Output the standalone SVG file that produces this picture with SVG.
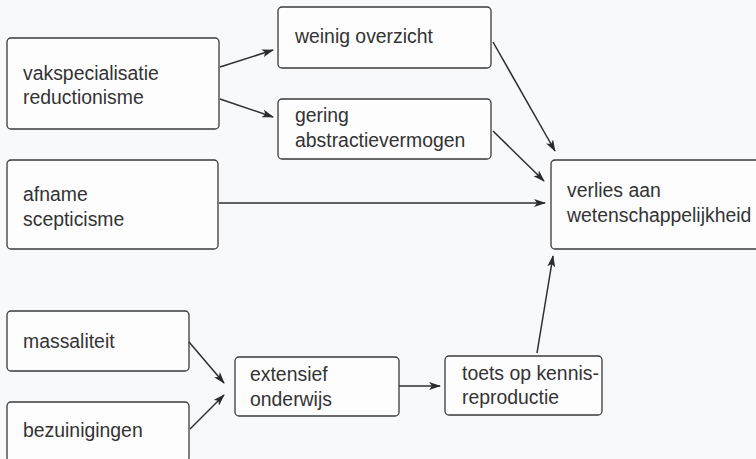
<svg xmlns="http://www.w3.org/2000/svg" width="756" height="459" viewBox="0 0 756 459">
<defs>
<marker id="ah" markerWidth="12" markerHeight="8" refX="11" refY="4" orient="auto" markerUnits="userSpaceOnUse">
<path d="M0,0 L12,4 L0,8 L3,4 z" fill="#2b2b2b"/>
</marker>
<style>
.box{fill:#fdfdfe;stroke:#3a3a3a;stroke-width:1.3}
.t{font-family:"Liberation Sans",Arial,sans-serif;font-size:19.4px;fill:#333}
.c{stroke:#2e2e2e;stroke-width:1.5;fill:none;marker-end:url(#ah)}
</style>
</defs>
<rect width="756" height="459" fill="#f8f9fa"/>
<g id="n-vak"><rect class="box" x="7" y="38" width="212" height="91" rx="4"/><text class="t" x="23" y="80">vakspecialisatie</text><text class="t" x="23" y="104">reductionisme</text></g>
<g id="n-weinig"><rect class="box" x="278" y="7" width="213" height="61" rx="4"/><text class="t" x="295" y="43">weinig overzicht</text></g>
<g id="n-gering"><rect class="box" x="278" y="99" width="213" height="60" rx="4"/><text class="t" x="295" y="122">gering</text><text class="t" x="295" y="147">abstractievermogen</text></g>
<g id="n-afname"><rect class="box" x="7" y="160" width="211" height="89" rx="4"/><text class="t" x="23" y="201">afname</text><text class="t" x="23" y="226">scepticisme</text></g>
<g id="n-verlies"><rect class="box" x="551" y="160" width="215" height="89" rx="4"/><text class="t" x="567" y="197">verlies aan</text><text class="t" x="567" y="222">wetenschappelijkheid</text></g>
<g id="n-massa"><rect class="box" x="7" y="311" width="182" height="60" rx="4"/><text class="t" x="23" y="348">massaliteit</text></g>
<g id="n-bezui"><rect class="box" x="7" y="402" width="182" height="60" rx="4"/><text class="t" x="23" y="437">bezuinigingen</text></g>
<g id="n-ext"><rect class="box" x="235" y="357" width="164" height="59" rx="4"/><text class="t" x="250" y="381">extensief</text><text class="t" x="250" y="406">onderwijs</text></g>
<g id="n-toets"><rect class="box" x="445" y="356" width="157" height="59" rx="4"/><text class="t" x="462" y="380">toets op kennis-</text><text class="t" x="462" y="404">reproductie</text></g>
<g id="connectors">
<line class="c" x1="220" y1="67" x2="273" y2="50"/>
<line class="c" x1="220" y1="99" x2="273" y2="117"/>
<line class="c" x1="493" y1="42" x2="555" y2="151"/>
<line class="c" x1="493" y1="131" x2="544" y2="181"/>
<line class="c" x1="219" y1="203" x2="545" y2="203"/>
<line class="c" x1="537" y1="353" x2="553" y2="256"/>
<line class="c" x1="189" y1="342" x2="224" y2="383"/>
<line class="c" x1="190" y1="429" x2="224" y2="395"/>
<line class="c" x1="399" y1="386" x2="440" y2="386"/>
</g>
</svg>
